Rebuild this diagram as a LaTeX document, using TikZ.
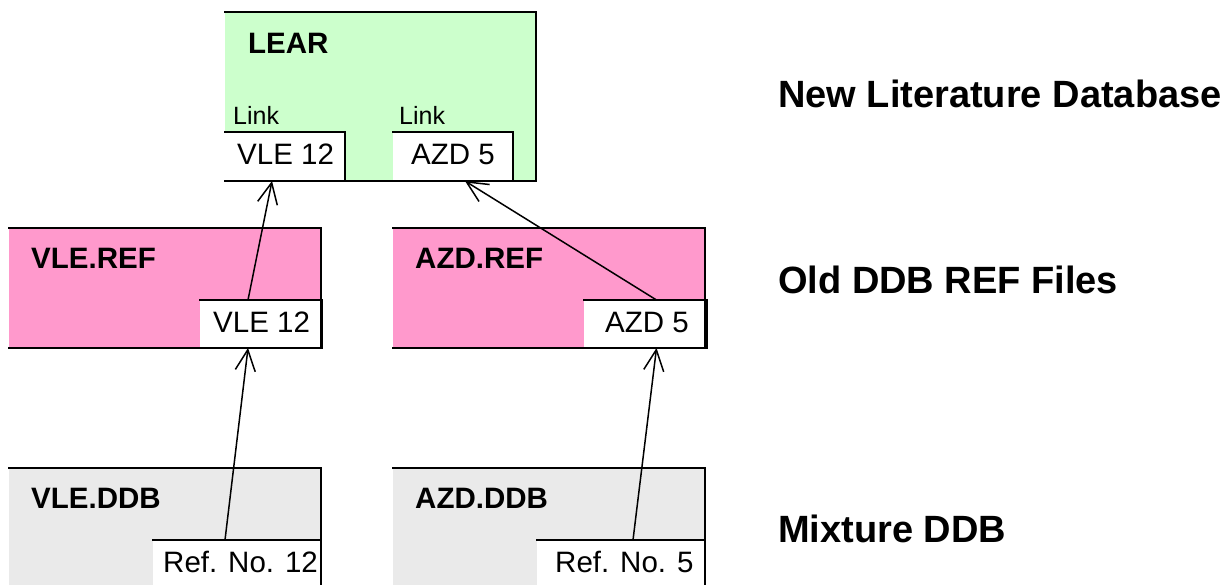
\documentclass[tikz,border=0pt]{standalone}
\usepackage{fontspec}
\setmainfont{Liberation Sans}
\usetikzlibrary{arrows.meta,calc}
\definecolor{leargreen}{HTML}{CCFFCC}
\definecolor{refpink}{HTML}{FF99CC}
\definecolor{ddbgray}{HTML}{EAEAEA}
\tikzset{
  box/.style={draw=none,inner sep=0pt,outer sep=0pt,anchor=north west},
  border/.style={line width=1.4pt,line cap=rect},
  boldlbl/.style={anchor=base west,inner sep=0pt,font=\fontsize{29.5}{34}\selectfont\bfseries},
  plainlbl/.style={anchor=base west,inner sep=0pt,font=\fontsize{29.5}{34}\selectfont},
  linklbl/.style={anchor=base west,inner sep=0pt,font=\fontsize{25}{29}\selectfont},
  sidelbl/.style={anchor=base west,inner sep=0pt,font=\fontsize{38}{44}\selectfont\bfseries},
  link/.style={line width=1.5pt,-{Straight Barb[length=21pt,width=20pt,line width=1.5pt]}}
}
\newcommand{\mybox}[6]{% name, x1,y1,x2,y2, fill
  \node[box,fill=#6,minimum width={#4-#2},minimum height={#5-#3}] (#1) at (#2,#3) {};}
\begin{document}
\begin{tikzpicture}[x=1pt,y=-1pt]
\useasboundingbox (0,0) rectangle (1225,584);
% LEAR
\mybox{lear}{225}{12}{536}{181}{leargreen}
\mybox{vlel}{225}{132}{345}{181}{white}
\mybox{azdl}{393}{132}{513}{181}{white}
\draw[border] (lear.north west) -- (lear.north east) -- (lear.south east) -- (lear.south west);
\draw[border] (vlel.north west) -- (vlel.north east) -- (vlel.south east);
\draw[border] (azdl.north west) -- (azdl.north east) -- (azdl.south east);
\node[boldlbl] (learlbl) at (248,53) {LEAR};
\node[linklbl] (link1) at (233,124) {Link};
\node[linklbl] (link2) at (399,124) {Link};
\node[plainlbl] (vlelt) at (237,164) {VLE 12};
\node[plainlbl] (azdlt) at (411,164) {AZD 5};
% REF files
\mybox{vref}{9}{228}{321}{348}{refpink}
\mybox{vler}{200}{300}{322}{348}{white}
\draw[border] (vref.north west) -- (vref.north east) -- (vref.south east) -- (vref.south west);
\draw[border] (vler.north west) -- (vler.north east) -- (vler.south east) -- (vler.south west);
\node[boldlbl] (vreflbl) at (31,268) {VLE.REF};
\node[plainlbl] (vlert) at (213,332) {VLE 12};
\mybox{aref}{393}{228}{705}{348}{refpink}
\mybox{azdr}{584}{300}{707}{348}{white}
\draw[border] (aref.north west) -- (aref.north east) -- (aref.south east) -- (aref.south west);
\draw[border] (azdr.north west) -- (azdr.north east) -- (azdr.south east) -- (azdr.south west);
\node[boldlbl] (areflbl) at (415,268) {AZD.REF};
\node[plainlbl] (azdrt) at (605,332) {AZD 5};
% DDB
\mybox{vddb}{9}{468}{321}{590}{ddbgray}
\mybox{ref12}{153}{540}{321}{590}{white}
\draw[border] (vddb.north west) -- (vddb.north east) -- (vddb.south east);
\draw[border] (ref12.north west) -- (ref12.north east);
\node[boldlbl] (vddblbl) at (31,508) {VLE.DDB};
\node[plainlbl] (ref12t) at (163,572) {Ref. No. 12};
\mybox{addb}{393}{468}{705}{590}{ddbgray}
\mybox{ref5}{537}{540}{705}{590}{white}
\draw[border] (addb.north west) -- (addb.north east) -- (addb.south east);
\draw[border] (ref5.north west) -- (ref5.north east);
\node[boldlbl] (addblbl) at (415,508) {AZD.DDB};
\node[plainlbl] (ref5t) at (555,572) {Ref. No. 5};
% side labels
\node[sidelbl] (s1) at (778,107) {New Literature Database};
\node[sidelbl] (s2) at (778,293) {Old DDB REF Files};
\node[sidelbl] (s3) at (778,542) {Mixture DDB};
% links
\draw[link] ([xshift=-12pt]ref12.north) -- ([xshift=-13pt]vler.south);
\draw[link] ([xshift=-13pt]vler.north) -- ([xshift=-13pt]vlel.south);
\draw[link] ([xshift=12pt]ref5.north) -- ([xshift=11pt]azdr.south);
\draw[link] ([xshift=11pt]azdr.north) -- ([xshift=12pt]azdl.south);
\end{tikzpicture}
\end{document}
